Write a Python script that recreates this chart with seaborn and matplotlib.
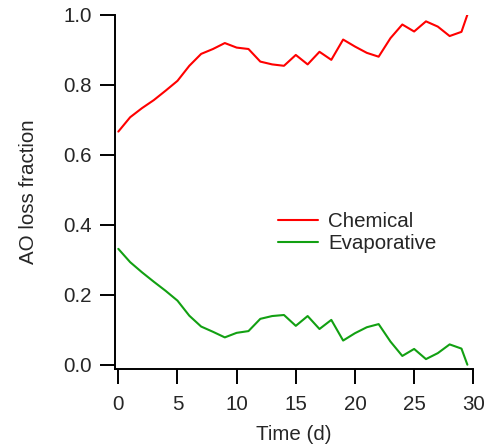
import numpy as np
import pandas as pd
import matplotlib
matplotlib.use("Agg")
import matplotlib.pyplot as plt
import seaborn as sns

time_d = list(range(30)) + [29.5]
chemical = [0.666, 0.707, 0.733, 0.756, 0.783, 0.811, 0.854, 0.888, 0.902, 0.919,
            0.906, 0.902, 0.866, 0.858, 0.854, 0.885, 0.858, 0.894, 0.871, 0.929,
            0.909, 0.891, 0.880, 0.933, 0.972, 0.952, 0.981, 0.966, 0.939, 0.951, 1.0]
evaporative = [0.331, 0.293, 0.264, 0.237, 0.211, 0.183, 0.140, 0.109, 0.094, 0.078,
               0.091, 0.096, 0.131, 0.139, 0.142, 0.111, 0.139, 0.102, 0.128, 0.069,
               0.090, 0.107, 0.116, 0.066, 0.025, 0.045, 0.016, 0.033, 0.058, 0.046, 0.0]
series_names = ["Chemical", "Evaporative"]
series_colors = ["#ff0000", "#12a012"]
x_ticks = [0, 5, 10, 15, 20, 25, 30]
y_ticks = [0.0, 0.2, 0.4, 0.6, 0.8, 1.0]

df = pd.concat([
    pd.DataFrame({"Time": time_d, "Fraction": chemical, "Type": series_names[0]}),
    pd.DataFrame({"Time": time_d, "Fraction": evaporative, "Type": series_names[1]}),
])

sns.set_style("ticks")
plt.rcParams['font.family'] = ['Liberation Sans', 'DejaVu Sans']

FS = 14.8
fig = plt.figure(figsize=(4.87, 4.46), dpi=100)
ax = fig.add_axes([115/487, 1 - 369/446, (473.3 - 115)/487, (369 - 14.7)/446])

sns.lineplot(data=df, x="Time", y="Fraction", hue="Type", palette=series_colors,
             hue_order=series_names, linewidth=1.5, sort=False, estimator=None, ax=ax)

ax.set_xlim(-0.28, 30)
ax.set_ylim(-0.0123, 1.0)
ax.set_xticks(x_ticks)
ax.set_yticks(y_ticks)
ax.set_yticklabels([f"{v:.1f}" for v in y_ticks])
ax.tick_params(axis='both', labelsize=FS, length=10.5, width=1.4, direction='out',
               pad=6, color='black')
ax.tick_params(axis='x', pad=8)
ax.set_xlabel("Time (d)", fontsize=FS, labelpad=8)
ax.set_ylabel("AO loss fraction", fontsize=FS, labelpad=18)
for side in ['top', 'right']:
    ax.spines[side].set_visible(False)
for side in ['left', 'bottom']:
    ax.spines[side].set_linewidth(1.4)
    ax.spines[side].set_color('black')

leg = ax.legend(frameon=False, fontsize=FS, loc='center left',
                bbox_to_anchor=(0.455, 0.384), handlelength=1.95, handletextpad=0.5,
                labelspacing=0.15, borderaxespad=0, borderpad=0)
for line in leg.get_lines():
    line.set_linewidth(1.5)

fig.savefig("out.png", dpi=100)
